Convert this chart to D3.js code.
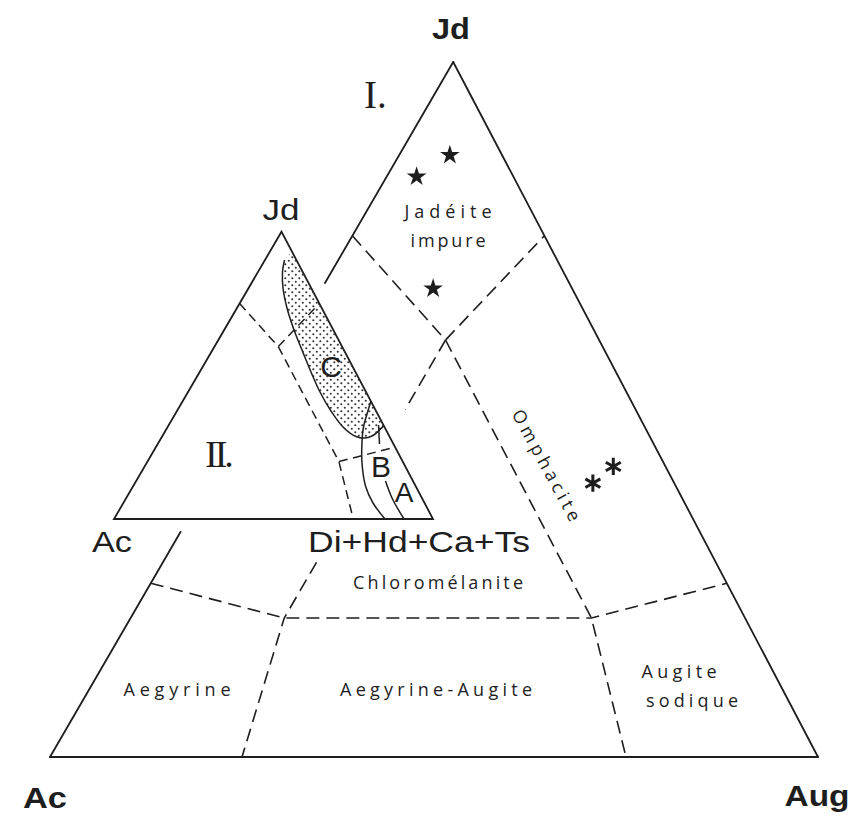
<!DOCTYPE html>
<html><head><meta charset="utf-8">
<script src="https://cdn.jsdelivr.net/npm/d3@7"></script>
<style>html,body{margin:0;padding:0;background:#fff;} svg{display:block}</style>
</head><body>
<script>
// ================= DATA (compositions as [Jd, Ac, third corner]) =================
// Diagram I : Jd - Ac - Aug
const bigCorners = ["Jd", "Ac", "Aug"];
const bigEdges = [
  [[0, 1, 0], [0.324, 0.676, 0]],
  [[0.682, 0.318, 0], [1, 0, 0]],
  [[1, 0, 0], [0, 0, 1]],
  [[0, 0, 1], [0, 1, 0]]
];
const bigBoundaries = [
  [[0.75, 0.25, 0], [0.6, 0.2, 0.2], [0.75, 0, 0.25]],
  [[0.6, 0.2, 0.2], [0.2, 0.2, 0.6], [0, 0.25, 0.75]],
  [[0.25, 0.75, 0], [0.2, 0.6, 0.2], [0.2, 0.2, 0.6], [0.25, 0, 0.75]],
  [[0.6, 0.2, 0.2], [0.5, 0.3, 0.2]],
  [[0.28, 0.52, 0.2], [0.2, 0.6, 0.2], [0, 0.75, 0.25]]
];
const jadeiteStars = [[0.866, 0.068, 0.066], [0.835, 0.126, 0.039], [0.674, 0.181, 0.145]];
const omphaciteAsterisks = [[0.418, 0.068, 0.514], [0.394, 0.106, 0.500]];
const regionNames = ["Jadéite", "impure", "Omphacite", "Chloromélanite", "Aegyrine", "Aegyrine-Augite", "Augite", "sodique"];

// Diagram II : Jd - Ac - Di+Hd+Ca+Ts
const smallCorners = ["Jd", "Ac", "Di+Hd+Ca+Ts"];
const smallEdges = [[[1, 0, 0], [0, 1, 0], [0, 0, 1], [1, 0, 0]]];
const smallBoundaries = [
  [[0.75, 0.25, 0], [0.6, 0.2, 0.2], [0.75, 0, 0.25]],
  [[0.6, 0.2, 0.2], [0.2, 0.2, 0.6], [0, 0.25, 0.75]],
  [[0.2, 0.2, 0.6], [0.25, 0, 0.75]]
];
const fieldCTop = [0.93, 0, 0.07];
const fieldC = [
  [0.9015, 0.0373, 0.0612], [0.8597, 0.0634, 0.0769], [0.804, 0.0883, 0.1077],
  [0.7344, 0.1089, 0.1567], [0.6578, 0.1232, 0.219], [0.5882, 0.1313, 0.2805],
  [0.5117, 0.1393, 0.349], [0.442, 0.1443, 0.4137], [0.3759, 0.1412, 0.4829],
  [0.3167, 0.1286, 0.5547], [0.2872, 0.105, 0.6078], [0.2819, 0.0794, 0.6388],
  [0.2906, 0.0501, 0.6593], [0.308, 0.023, 0.669], [0.325, 0, 0.675]
];
const fieldB = [
  [0.41, 0, 0.59], [0.3655, 0.0333, 0.6012], [0.3202, 0.0658, 0.614],
  [0.268, 0.0953, 0.6367], [0.1949, 0.13, 0.6751], [0.1149, 0.157, 0.7281],
  [0.0557, 0.1616, 0.7827], [0, 0.1505, 0.8495]
];
const fieldA = [
  [[0.3272, 0.0154, 0.6574], [0.261, 0.0437, 0.6953]],
  [[0.1323, 0.0861, 0.7816], [0.0696, 0.0939, 0.8365], [0, 0.0909, 0.9091]]
];
const fieldNames = ["C", "B", "A"];
const diagramNumbers = ["I.", "II."];

// ================= LAYOUT =================
const W = 856, H = 817, SKEW = 0.525, INK = "#1e1e1e";
const svg = d3.select("body").append("svg").attr("width", W).attr("height", H)
  .style("background", "#fff");

function ternary(xRange, yRange) {
  const xs = d3.scaleLinear().domain([0, 1]).range(xRange);
  const ys = d3.scaleLinear().domain([0, 1]).range(yRange);
  return c => {
    const s = c[0] + c[1] + c[2], jd = c[0] / s, r = c[2] / s;
    return [xs(r + SKEW * jd), ys(jd)];
  };
}
const big = ternary([50, 818], [757, 62]);
const small = ternary([114, 433], [519, 231.7]);

const line = d3.line();
const smooth = d3.line().curve(d3.curveCatmullRom.alpha(0.5));

// stipple pattern
const defs = svg.append("defs");
const pat = defs.append("pattern").attr("id", "stip").attr("patternUnits", "userSpaceOnUse")
  .attr("width", 7).attr("height", 7);
pat.append("circle").attr("cx", 1.8).attr("cy", 1.8).attr("r", 1.05).attr("fill", "#333");
pat.append("circle").attr("cx", 5.3).attr("cy", 5.3).attr("r", 1.05).attr("fill", "#333");

// ---- big diagram ----
svg.append("g").selectAll("path").data(bigEdges).join("path")
  .attr("d", d => line(d.map(big))).attr("fill", "none")
  .attr("stroke", INK).attr("stroke-width", 1.8).attr("stroke-linecap", "round");
svg.append("g").selectAll("path").data(bigBoundaries).join("path")
  .attr("d", d => line(d.map(big))).attr("fill", "none")
  .attr("stroke", INK).attr("stroke-width", 1.6).attr("stroke-dasharray", "13,7");

svg.append("g").selectAll("path").data(jadeiteStars).join("path")
  .attr("transform", d => `translate(${big(d)})`)
  .attr("d", d3.symbol().type(d3.symbolStar).size(120)).attr("fill", INK);

const asteriskType = d3.symbolAsterisk || {
  draw(ctx, size) { const r = Math.sqrt(size) * 0.59436, t = r / 2, u = t * Math.sqrt(3);
    ctx.moveTo(0, r); ctx.lineTo(0, -r); ctx.moveTo(-u, -t); ctx.lineTo(u, t); ctx.moveTo(-u, t); ctx.lineTo(u, -t); }
};
svg.append("g").selectAll("path").data(omphaciteAsterisks).join("path")
  .attr("transform", d => `translate(${big(d)})`)
  .attr("d", d3.symbol().type(asteriskType).size(210)).attr("fill", "none")
  .attr("stroke", INK).attr("stroke-width", 3);

// ---- small diagram ----
svg.append("g").selectAll("path").data(smallEdges).join("path")
  .attr("d", d => line(d.map(small)) + "Z").attr("fill", "#fff")
  .attr("stroke", INK).attr("stroke-width", 1.8).attr("stroke-linejoin", "miter");
// field C (stippled)
svg.append("path").attr("d", smooth([fieldCTop, ...fieldC].map(small)) + "Z")
  .attr("fill", "url(#stip)").attr("stroke", "none");
svg.append("path").attr("d", smooth(fieldC.map(small)))
  .attr("fill", "none").attr("stroke", INK).attr("stroke-width", 1.5);
svg.append("g").selectAll("path").data(smallBoundaries).join("path")
  .attr("d", d => line(d.map(small))).attr("fill", "none")
  .attr("stroke", INK).attr("stroke-width", 1.5).attr("stroke-dasharray", "9,5.5");
svg.append("path").attr("d", smooth(fieldB.map(small)))
  .attr("fill", "none").attr("stroke", INK).attr("stroke-width", 1.5);
svg.append("g").selectAll("path").data(fieldA).join("path")
  .attr("d", d => smooth(d.map(small))).attr("fill", "none")
  .attr("stroke", INK).attr("stroke-width", 1.5);

// ---- text ----
function txt(s, x, y, o = {}) {
  const t = svg.append("text").text(s).attr("x", x).attr("y", y)
    .attr("text-anchor", o.anchor || "middle")
    .attr("font-family", o.family || "'Liberation Sans', Arial, sans-serif")
    .attr("font-size", o.size || 28).attr("font-weight", o.weight || "normal")
    .attr("fill", INK);
  if (o.len) t.attr("textLength", o.len).attr("lengthAdjust", o.adj || "spacing");
  if (o.ls != null) t.attr("letter-spacing", o.ls);
  if (o.rot != null) t.attr("transform", `rotate(${o.rot},${x},${y})`).attr("dominant-baseline", "central");
  return t;
}
const G = "spacingAndGlyphs";
// corner labels
txt(bigCorners[0], 451, 39, {weight: "bold", size: 30, len: 38, adj: G});
txt(bigCorners[1], 45, 808, {weight: "bold", size: 30, len: 44, adj: G});
txt(bigCorners[2], 817, 806, {weight: "bold", size: 30, len: 65, adj: G});
txt(smallCorners[0], 281, 220, {size: 30, len: 37, adj: G});
txt(smallCorners[1], 112, 552, {size: 29, len: 40, adj: G});
txt(smallCorners[2], 419, 552, {size: 29, len: 222, adj: G});
// field letters
txt(fieldNames[0], 331, 377, {size: 30});
txt(fieldNames[1], 381, 477, {size: 30});
txt(fieldNames[2], 404, 502, {size: 28});
// diagram numbers
txt(diagramNumbers[0], 364, 108, {anchor: "start", family: "'Liberation Serif', 'Times New Roman', serif", size: 39});
txt(diagramNumbers[1], 205, 467, {anchor: "start", family: "'Liberation Serif', 'Times New Roman', serif", size: 38, ls: -3});
// region names
const RF = "'Open Sans', sans-serif", RS = 18;
txt(regionNames[0], 448, 218, {family: RF, size: RS, len: 87});
txt(regionNames[1], 448, 247, {family: RF, size: RS, len: 75});
txt(regionNames[2], 547, 465, {family: RF, size: RS, len: 124, rot: 61.5});
txt(regionNames[3], 438, 589, {family: RF, size: RS, len: 170});
txt(regionNames[4], 177, 696, {family: RF, size: RS, len: 107});
txt(regionNames[5], 436, 696, {family: RF, size: RS, len: 192});
txt(regionNames[6], 679, 678, {family: RF, size: RS, len: 75});
txt(regionNames[7], 692, 707, {family: RF, size: RS, len: 92});
</script>
</body></html>
